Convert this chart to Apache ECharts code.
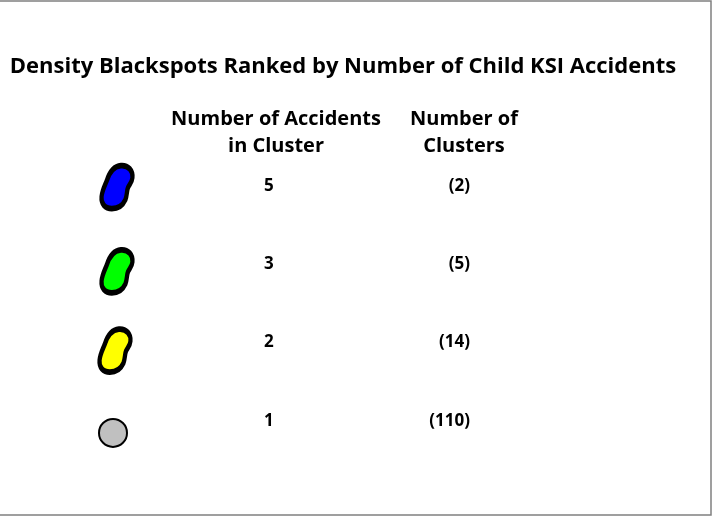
<!DOCTYPE html>
<html>
<head>
<meta charset="utf-8">
<script src="https://cdn.jsdelivr.net/npm/echarts@6/dist/echarts.min.js"></script>
<style>
  html, body { margin: 0; padding: 0; background: #fff; }
  #main { width: 713px; height: 517px; }
</style>
</head>
<body>
<div id="main"></div>
<script>
// rows of the key, top to bottom
var accidents = [5, 3, 2, 1];
var clusters = [2, 5, 14, 110];
var fills = ['#0000ff', '#00ff00', '#ffff00', '#c0c0c0'];
var rows = ['r5', 'r3', 'r2', 'r1'];

// bean shaped blob for the cluster symbols
var bean = 'path://M62,2 C86,0 100,18 98,40 C97,54 88,62 84,72 C80,82 82,94 76,110 C68,128 52,138 34,138 C12,138 0,122 2,100 C4,80 12,66 18,50 C26,24 40,4 62,2 Z';
// icons sit a little lower than the text of their row
var iconShift = [[0, 1], [0, 7], [-2, 8], [-4, 12]];

var chart = echarts.init(document.getElementById('main'));
var font = '"Open Sans", Lato, sans-serif';

var iconData = [];
for (var i = 0; i < rows.length; i++) {
    var last = i == rows.length - 1;
    iconData.push({
        value: [0, rows[i]],
        symbol: last ? 'circle' : bean,
        symbolSize: last ? 28 : [31, 43],
        symbolOffset: iconShift[i],
        itemStyle: {
            color: fills[i],
            opacity: 1,
            borderColor: '#000',
            borderWidth: last ? 2 : 5
        }
    });
}

var option = {
    backgroundColor: '#fff',
    animation: false,
    title: [{
        text: 'Density Blackspots Ranked by Number of Child KSI Accidents',
        left: 338, top: 51, textAlign: 'center',
        textStyle: { fontFamily: font, fontSize: 22, fontWeight: 'bold', color: '#000' }
    }, {
        text: 'Number of Accidents\nin Cluster',
        left: 271, top: 101, textAlign: 'center',
        textStyle: { fontFamily: font, fontSize: 20, fontWeight: 'bold', color: '#000', lineHeight: 27 }
    }, {
        text: 'Number of\nClusters',
        left: 459, top: 101, textAlign: 'center',
        textStyle: { fontFamily: font, fontSize: 20, fontWeight: 'bold', color: '#000', lineHeight: 27 }
    }],
    graphic: [{
        type: 'rect',
        shape: { x: -1, y: 1, width: 712, height: 514 },
        style: { fill: 'none', stroke: '#808080', lineWidth: 1.5 }
    }],
    grid: { left: 117, width: 353, top: 147, height: 313 },
    xAxis: { type: 'value', min: 0, max: 1, show: false },
    yAxis: { type: 'category', data: rows, inverse: true, show: false },
    series: [{
        type: 'scatter',
        data: iconData
    }, {
        type: 'scatter',
        symbolSize: 0,
        itemStyle: { opacity: 1 },
        data: accidents.map(function (a, i) { return [0.43, rows[i], a]; }),
        label: {
            show: true, position: 'inside',
            formatter: function (p) { return p.value[2]; },
            fontFamily: font, fontSize: 17, fontWeight: 'bold', color: '#000',
            textBorderWidth: 0
        }
    }, {
        type: 'scatter',
        symbolSize: 0,
        itemStyle: { opacity: 1 },
        data: clusters.map(function (c, i) { return [1, rows[i], c]; }),
        label: {
            show: true, position: 'left', distance: 0,
            formatter: function (p) { return '(' + p.value[2] + ')'; },
            fontFamily: font, fontSize: 17, fontWeight: 'bold', color: '#000',
            textBorderWidth: 0
        }
    }]
};
chart.setOption(option);
</script>
</body>
</html>
